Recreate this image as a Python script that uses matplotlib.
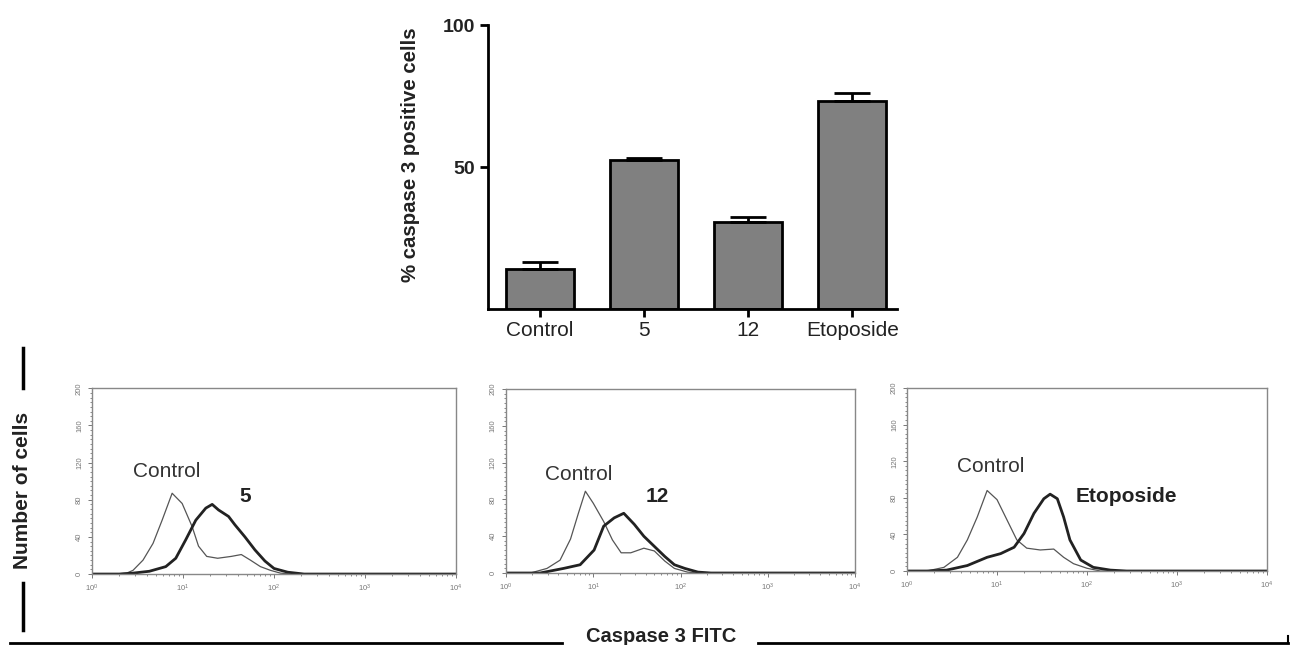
import numpy as np
import matplotlib
matplotlib.use("Agg")
import matplotlib.pyplot as plt
from matplotlib.lines import Line2D
from matplotlib.ticker import LogLocator, MultipleLocator, NullFormatter

plt.rcParams['font.family'] = ['Liberation Sans', 'DejaVu Sans']

# ---- bar chart data ----
groups = ["Control", "5", "12", "Etoposide"]
pct_pos = [14.0, 52.5, 30.6, 73.2]
pct_err = [2.5, 0.6, 1.8, 3.0]

# ---- flow histograms (log10 intensity, counts) ----
ctrl1_x = [0.0, 0.25, 0.38, 0.45, 0.56, 0.67, 0.77, 0.88, 0.99, 1.10, 1.17, 1.26, 1.38, 1.53, 1.64, 1.74, 1.85, 1.96, 2.07, 2.18, 4.0]
ctrl1_y = [0, 0, 1, 4, 15, 33, 58, 87, 76, 51, 30, 19, 17, 19, 21, 15, 8, 4, 1, 0, 0]
s5_x = [0.0, 0.3, 0.45, 0.63, 0.81, 0.92, 1.03, 1.14, 1.25, 1.32, 1.39, 1.50, 1.57, 1.68, 1.79, 1.90, 2.00, 2.15, 2.33, 4.0]
s5_y = [0, 0, 1, 3, 8, 17, 37, 58, 71, 75, 69, 62, 53, 40, 26, 14, 6, 2, 0, 0]

ctrl2_x = [0.0, 0.28, 0.47, 0.62, 0.74, 0.83, 0.91, 1.00, 1.12, 1.22, 1.32, 1.43, 1.58, 1.70, 1.82, 1.93, 2.08, 2.2, 4.0]
ctrl2_y = [0, 0, 5, 14, 37, 65, 89, 76, 56, 36, 22, 22, 27, 24, 13, 5, 1, 0, 0]
s12_x = [0.0, 0.39, 0.66, 0.85, 1.01, 1.12, 1.24, 1.35, 1.47, 1.58, 1.70, 1.82, 1.93, 2.05, 2.20, 2.35, 4.0]
s12_y = [0, 0, 5, 9, 25, 51, 60, 65, 53, 40, 29, 18, 9, 5, 1, 0, 0]

ctrl3_x = [0.0, 0.22, 0.41, 0.56, 0.67, 0.78, 0.89, 1.00, 1.11, 1.22, 1.33, 1.48, 1.63, 1.74, 1.85, 2.00, 2.15, 4.0]
ctrl3_y = [0, 0, 4, 15, 34, 59, 88, 78, 56, 34, 25, 23, 24, 15, 8, 3, 0, 0]
eto_x = [0.0, 0.22, 0.44, 0.67, 0.89, 1.04, 1.19, 1.30, 1.41, 1.52, 1.59, 1.67, 1.74, 1.81, 1.93, 2.07, 2.26, 2.44, 4.0]
eto_y = [0, 0, 1, 6, 15, 19, 26, 41, 63, 79, 84, 79, 59, 34, 12, 4, 1, 0, 0]

panels = [
    (ctrl1_x, ctrl1_y, s5_x, s5_y, "5"),
    (ctrl2_x, ctrl2_y, s12_x, s12_y, "12"),
    (ctrl3_x, ctrl3_y, eto_x, eto_y, "Etoposide"),
]
# label anchors (log10 x, count)
ctrl_lab = [(0.45, 110), (0.45, 107), (0.56, 114)]
samp_lab = [(1.62, 83), (1.60, 83), (1.87, 81)]

fig = plt.figure(figsize=(12.93, 6.45), dpi=100)

# ---------------- bar chart ----------------
ax = fig.add_axes([0.3774, 0.521, 0.3163, 0.440])
xpos = np.arange(len(groups))
ax.bar(xpos, pct_pos, width=0.65, color="#808080", edgecolor="black", linewidth=2, zorder=2)
ax.errorbar(xpos, pct_pos, yerr=[np.zeros(len(pct_err)), pct_err], fmt="none",
            ecolor="black", elinewidth=2, capsize=13, capthick=2, zorder=3)
ax.set_xlim(-0.5, 3.43)
ax.set_ylim(0, 100)
ax.set_yticks([50, 100])
ax.set_yticklabels(["50", "100"], fontsize=14, fontweight="bold", color="#222222")
ax.set_xticks(xpos)
ax.set_xticklabels(groups, fontsize=15, color="#222222")
ax.tick_params(axis="both", direction="out", length=6, width=2, pad=3)
for s in ["top", "right"]:
    ax.spines[s].set_visible(False)
for s in ["left", "bottom"]:
    ax.spines[s].set_linewidth(2)
ax.set_ylabel("% caspase 3 positive cells", fontsize=14.7, fontweight="bold", color="#222222")
ax.yaxis.set_label_coords(-0.166, 0.542)

# ---------------- histograms ----------------
rects = [[0.0712, 0.110, 0.2815, 0.288],
         [0.3913, 0.1116, 0.270, 0.285],
         [0.7015, 0.1147, 0.2784, 0.2837]]
for k, (cx, cy, sx, sy, name) in enumerate(panels):
    h = fig.add_axes(rects[k])
    h.plot(10 ** np.array(cx), cy, color="#555555", lw=0.9)
    h.plot(10 ** np.array(sx), sy, color="#222222", lw=2.0)
    h.set_xscale("log")
    h.set_xlim(1, 1e4)
    h.set_ylim(0, 200)
    h.set_yticks([0, 40, 80, 120, 160, 200])
    h.yaxis.set_minor_locator(MultipleLocator(5))
    h.xaxis.set_major_locator(LogLocator(base=10, numticks=5))
    h.xaxis.set_minor_locator(LogLocator(base=10, subs=np.arange(2, 10), numticks=20))
    h.xaxis.set_minor_formatter(NullFormatter())
    h.tick_params(axis="both", which="major", labelsize=5.5, colors="#777777", length=3, width=0.7)
    h.tick_params(axis="both", which="minor", colors="#777777", length=1.5, width=0.6)
    for lab in h.get_yticklabels():
        lab.set_rotation(90)
        lab.set_va("center")
    for s in h.spines.values():
        s.set_color("#888888")
        s.set_linewidth(1)
    lx, ly = ctrl_lab[k]
    h.text(10 ** lx, ly, "Control", fontsize=15, color="#333333", va="center", ha="left")
    tx, ty = samp_lab[k]
    h.text(10 ** tx, ty, name, fontsize=15, fontweight="bold", color="#222222", va="center", ha="left")

# ---------------- outer labels ----------------
fig.text(23 / 1293, 1 - 490 / 645, "Number of cells", rotation=90, fontsize=15,
         fontweight="bold", ha="center", va="center", color="#222222")
fig.add_artist(Line2D([23 / 1293] * 2, [1 - 348 / 645, 1 - 388 / 645], color="black", lw=2.5))
fig.add_artist(Line2D([23 / 1293] * 2, [1 - 583 / 645, 1 - 630 / 645], color="black", lw=2.5))
fig.text(661 / 1293, 1 - 637 / 645, "Caspase 3 FITC", fontsize=14.5, fontweight="bold",
         ha="center", va="center", color="#222222")
fig.add_artist(Line2D([10 / 1293, 562 / 1293], [1 - 643 / 645] * 2, color="black", lw=2))
fig.add_artist(Line2D([758 / 1293, 1288 / 1293], [1 - 643 / 645] * 2, color="black", lw=2))
fig.add_artist(Line2D([1288 / 1293] * 2, [1 - 636 / 645, 1 - 643 / 645], color="black", lw=1.5))

fig.savefig("out.png", dpi=100)
